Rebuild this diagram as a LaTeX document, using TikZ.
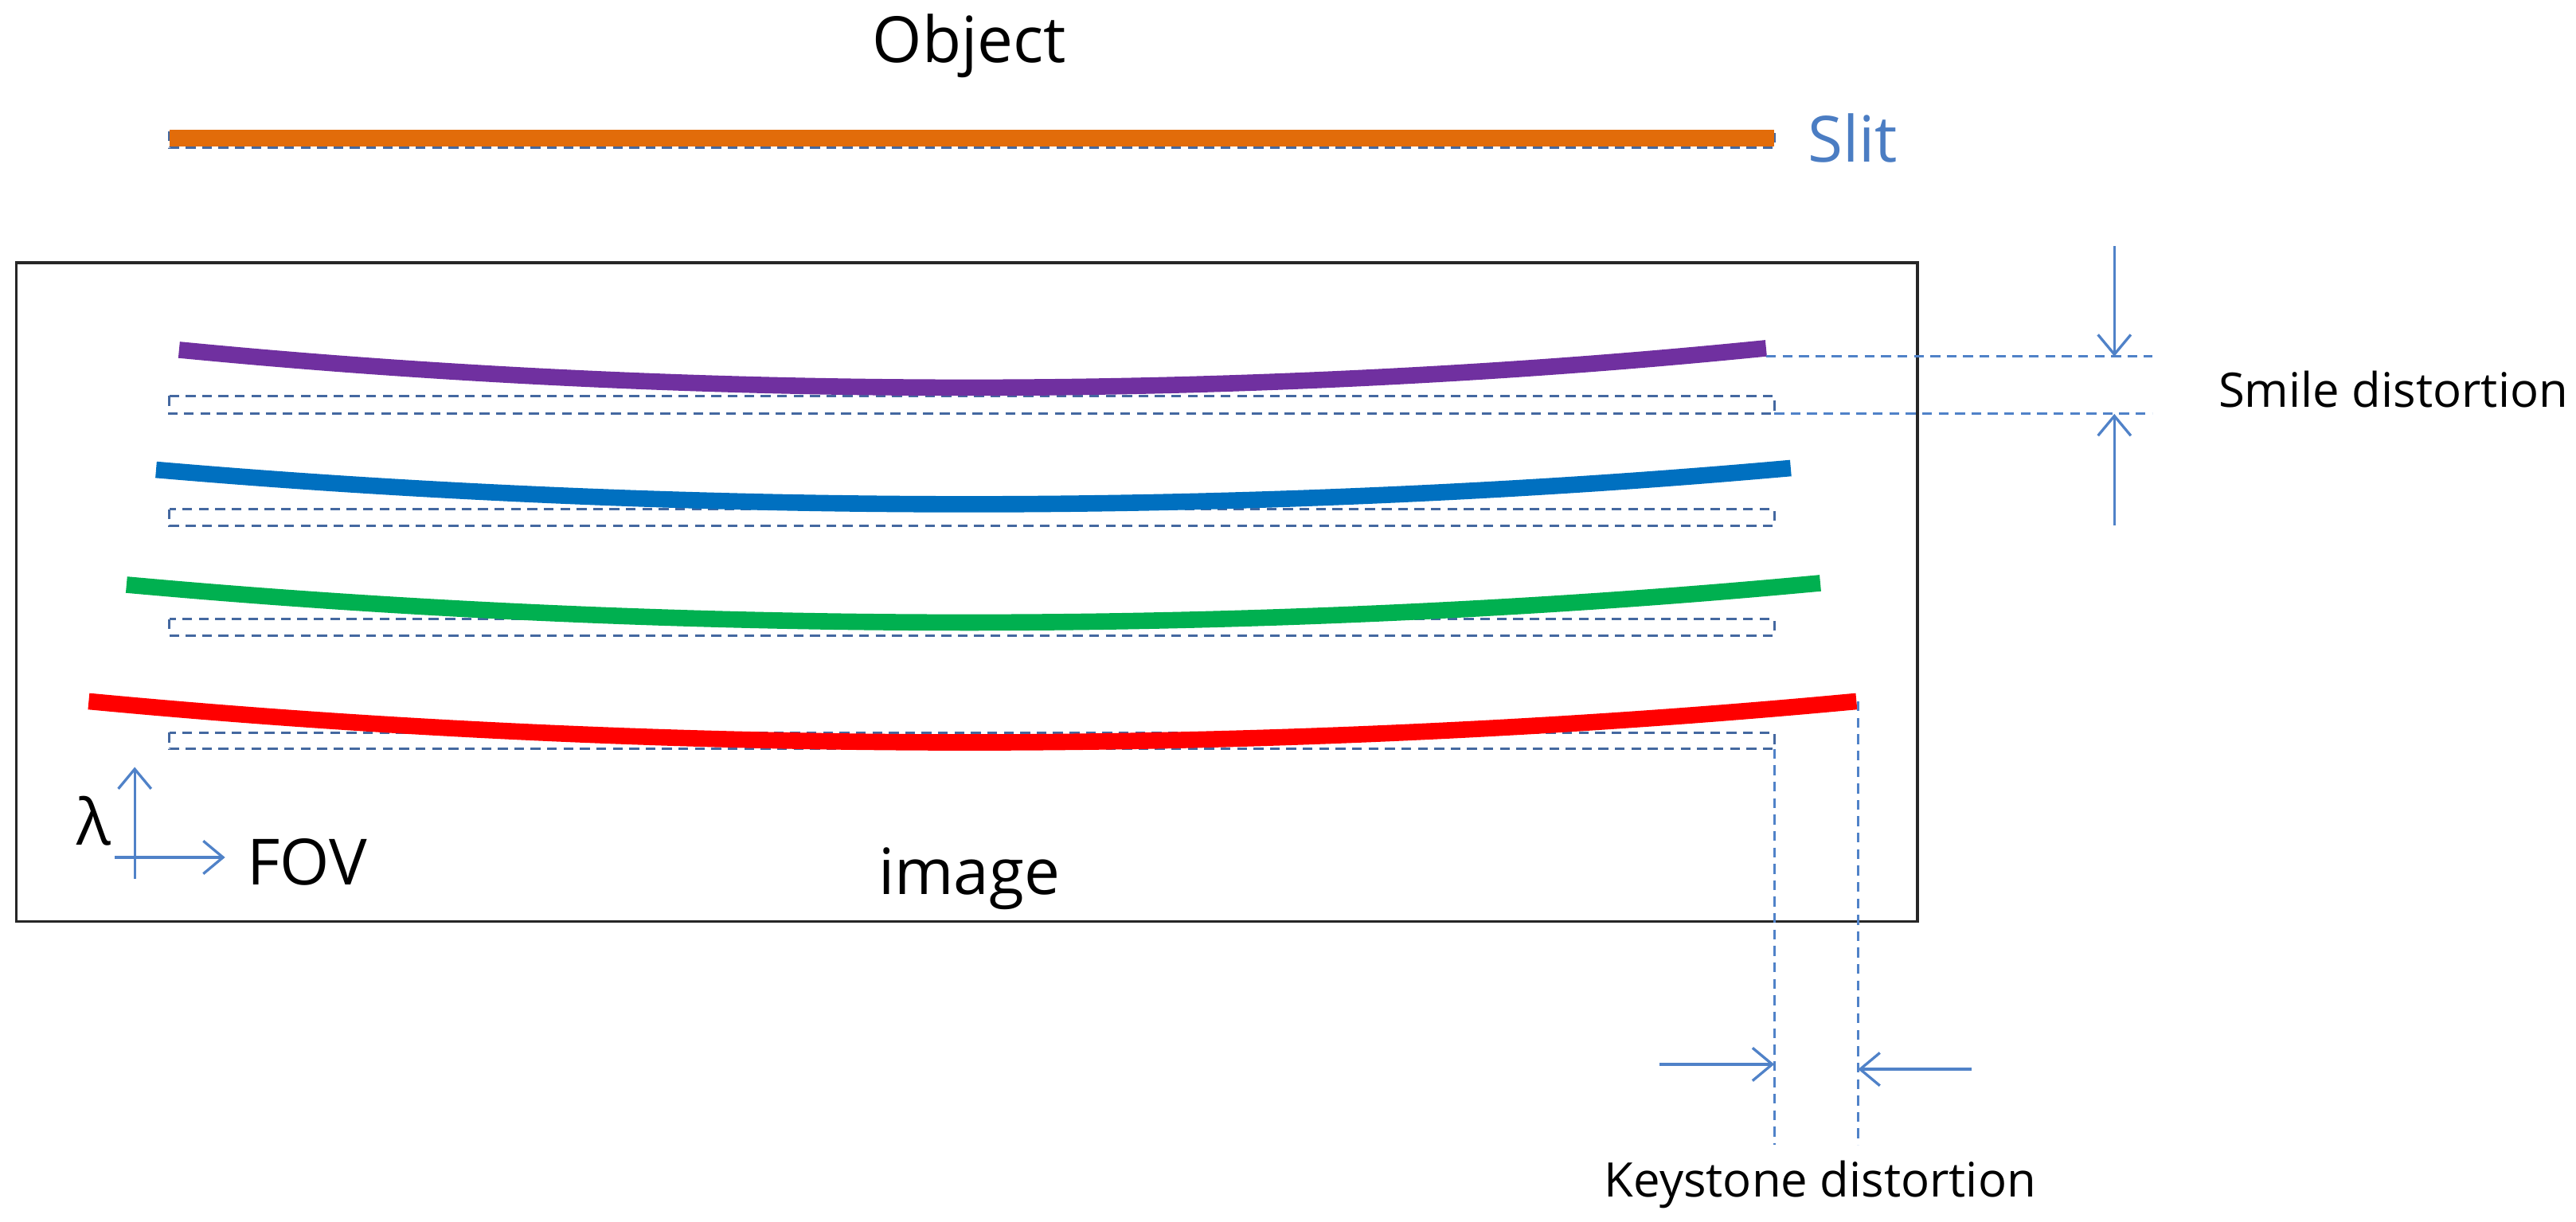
\documentclass[tikz,border=0pt]{standalone}
\usepackage{fontspec}
\setmainfont{Open Sans}
\usetikzlibrary{arrows.meta}
\definecolor{dashc}{RGB}{68,104,160}
\definecolor{arrc}{RGB}{80,130,200}
\definecolor{slitc}{RGB}{75,125,195}
\definecolor{orangec}{RGB}{226,108,10}
\definecolor{purplec}{RGB}{112,48,160}
\definecolor{bluec}{RGB}{0,112,192}
\definecolor{greenc}{RGB}{0,176,80}
\definecolor{redc}{RGB}{255,0,0}
\tikzset{
  refbox/.style={draw=dashc, line width=0.75pt, dash pattern=on 3pt off 2pt},
  guide/.style={draw=arrc, line width=0.7pt, dash pattern=on 3pt off 2pt},
  arr/.style={draw=arrc, line width=0.8pt, -{Straight Barb[length=6pt,width=10pt]}},
  spec/.style={line width=5pt},
  lbl/.style={font=\fontsize{19.4}{22}\selectfont, inner sep=0pt},
  slbl/.style={font=\fontsize{14.5}{17}\selectfont, inner sep=0pt}
}
\begin{document}
\begin{tikzpicture}[x=0.5pt,y=-0.5pt]
\useasboundingbox (0,0) rectangle (1568,744);
\node[lbl] (obj) at (590,28) {Object};
\node[lbl, text=slitc, anchor=west] (slit) at (1100,84) {Slit};
\draw[refbox] (103,80) rectangle (1080,90);
\draw[orangec, line width=5pt] (103,84) -- (1080,84);
\draw[line width=0.9pt, draw=black!85] (10,160) rectangle (1167,561);
% reference rectangles
\draw[refbox] (103,241) rectangle (1080,252);
\draw[refbox] (103,310) rectangle (1080,320);
\draw[refbox] (103,377) rectangle (1080,387);
\draw[refbox] (103,446) rectangle (1080,456);
% spectral curves
\draw[spec, purplec] (109,213) parabola bend (590,236) (1075,212);
\draw[spec, bluec] (95,286) parabola bend (590,307) (1090,285);
\draw[spec, greenc] (77,356) parabola bend (590,379) (1108,355);
\draw[spec, redc] (54,427) parabola bend (590,452) (1130,427);
% smile
\coordinate (s1) at (1075,217); \coordinate (s1e) at (1310,217);
\coordinate (s2) at (1080,252); \coordinate (s2e) at (1310,252);
\draw[guide] (s1) -- (s1e);
\draw[guide] (s2) -- (s2e);
\coordinate (a1s) at (1287,150); \coordinate (a1e) at (1287,217);
\coordinate (a2s) at (1287,320); \coordinate (a2e) at (1287,252);
\draw[arr] (a1s) -- (a1e);
\draw[arr] (a2s) -- (a2e);
\node[slbl, anchor=west] (smile) at (1350,237) {Smile distortion};
% keystone
\coordinate (k1) at (1080,456); \coordinate (k1e) at (1080,697);
\coordinate (k2) at (1131,427); \coordinate (k2e) at (1131,697);
\draw[guide] (k1) -- (k1e);
\draw[guide] (k2) -- (k2e);
\coordinate (b1s) at (1010,648); \coordinate (b1e) at (1080,648);
\coordinate (b2s) at (1200,651); \coordinate (b2e) at (1131,651);
\draw[arr] (b1s) -- (b1e);
\draw[arr] (b2s) -- (b2e);
\node[slbl] (key) at (1108,721) {Keystone distortion};
% axes
\coordinate (o1) at (82,535); \coordinate (o1e) at (82,467);
\coordinate (o2) at (70,522); \coordinate (o2e) at (137,522);
\draw[arr] (o1) -- (o1e);
\draw[arr] (o2) -- (o2e);
\node[lbl] (lam) at (57,500) {λ};
\node[lbl, anchor=west] (fov) at (150,525) {FOV};
\node[lbl] (img) at (590,535) {image};
\end{tikzpicture}
\end{document}
